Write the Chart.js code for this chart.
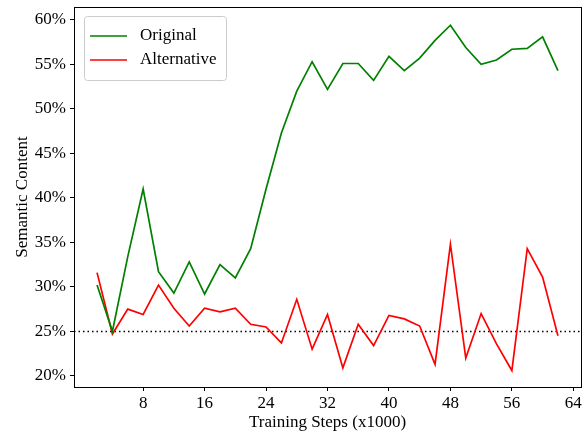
<!DOCTYPE html>
<html>
<head>
<meta charset="utf-8">
<script src="https://cdn.jsdelivr.net/npm/chart.js@4.4.1/dist/chart.umd.min.js"></script>
<style>
  html, body { margin: 0; padding: 0; background: #fff; }
  #wrap { width: 587px; height: 437px; }
</style>
</head>
<body>
<div id="wrap"><canvas id="c" width="587" height="437"></canvas></div>
<script>
// Training steps (x1000) at which each checkpoint was evaluated
const steps = [2, 4, 6, 8, 10, 12, 14, 16, 18, 20, 22, 24, 26, 28, 30, 32,
               34, 36, 38, 40, 42, 44, 46, 48, 50, 52, 54, 56, 58, 60, 62];

// Semantic content (%) per checkpoint
const original = [30.2, 25.0, 33.4, 41.0, 31.7, 29.3, 32.8, 29.2, 32.5, 31.0, 34.3,
                  41.0, 47.3, 52.0, 55.3, 52.2, 55.1, 55.1, 53.2, 55.9, 54.3, 55.7,
                  57.7, 59.4, 56.9, 55.0, 55.5, 56.7, 56.8, 58.1, 54.3];
const alternative = [31.6, 24.7, 27.5, 26.9, 30.2, 27.6, 25.6, 27.6, 27.2, 27.6, 25.8,
                     25.5, 23.7, 28.6, 23.0, 26.9, 20.9, 25.8, 23.4, 26.8, 26.4, 25.6,
                     21.3, 34.8, 22.0, 27.0, 23.6, 20.6, 34.3, 31.1, 24.5];

const chanceLevel = 25;
const xTicks = [8, 16, 24, 32, 40, 48, 56, 64];
const yTicks = [20, 25, 30, 35, 40, 45, 50, 55, 60];

const seriesNames = ['Original', 'Alternative'];
const seriesColors = ['#008000', '#ff0000'];

const FONT = '"Liberation Serif", "Times New Roman", serif';

const pts = (ys) => steps.map((s, i) => ({ x: s, y: ys[i] }));

// Full frame around the plotting area
const framePlugin = {
  id: 'frame',
  afterDatasetsDraw(chart) {
    const { ctx, chartArea: a } = chart;
    ctx.save();
    ctx.strokeStyle = '#000';
    ctx.lineWidth = 1;
    ctx.strokeRect(Math.round(a.left) + 0.5, Math.round(a.top) + 0.5,
                   Math.round(a.right - a.left), Math.round(a.bottom - a.top));
    ctx.restore();
  }
};

// Legend box in the upper-left corner of the plot
const insetLegend = {
  id: 'insetLegend',
  afterDraw(chart) {
    const { ctx, chartArea: a } = chart;
    const x0 = a.left + 10, y0 = a.top + 9;
    const w = 142, h = 64;
    ctx.save();
    ctx.fillStyle = 'rgba(255,255,255,0.8)';
    ctx.strokeStyle = '#cccccc';
    ctx.lineWidth = 1;
    const r = 3;
    ctx.beginPath();
    ctx.moveTo(x0 + r + 0.5, y0 + 0.5);
    ctx.arcTo(x0 + w + 0.5, y0 + 0.5, x0 + w + 0.5, y0 + h + 0.5, r);
    ctx.arcTo(x0 + w + 0.5, y0 + h + 0.5, x0 + 0.5, y0 + h + 0.5, r);
    ctx.arcTo(x0 + 0.5, y0 + h + 0.5, x0 + 0.5, y0 + 0.5, r);
    ctx.arcTo(x0 + 0.5, y0 + 0.5, x0 + w + 0.5, y0 + 0.5, r);
    ctx.closePath();
    ctx.fill();
    ctx.stroke();
    ctx.font = '17px ' + FONT;
    ctx.textBaseline = 'middle';
    seriesNames.forEach((name, i) => {
      const yy = y0 + 20 + i * 24;
      ctx.strokeStyle = seriesColors[i];
      ctx.lineWidth = 1.5;
      ctx.beginPath();
      ctx.moveTo(x0 + 6, yy);
      ctx.lineTo(x0 + 43, yy);
      ctx.stroke();
      ctx.fillStyle = '#000';
      ctx.fillText(name, x0 + 56, yy);
    });
    ctx.restore();
  }
};

new Chart(document.getElementById('c'), {
  type: 'line',
  data: {
    datasets: [
      { label: seriesNames[0], data: pts(original), borderColor: seriesColors[0],
        borderWidth: 1.7, pointRadius: 0, tension: 0, fill: false },
      { label: seriesNames[1], data: pts(alternative), borderColor: seriesColors[1],
        borderWidth: 1.7, pointRadius: 0, tension: 0, fill: false },
      { label: 'chance', data: [{ x: -1, y: chanceLevel }, { x: 65, y: chanceLevel }],
        borderColor: '#000', borderWidth: 1.5, borderDash: [1.5, 3],
        pointRadius: 0, tension: 0, fill: false }
    ]
  },
  options: {
    responsive: false,
    animation: false,
    devicePixelRatio: 1,
    layout: { padding: { top: 7, right: 6, left: 12, bottom: 0 } },
    plugins: { legend: { display: false }, tooltip: { enabled: false } },
    scales: {
      x: {
        type: 'linear', min: -1, max: 65,
        afterBuildTicks: (s) => { s.ticks = xTicks.map(v => ({ value: v })); },
        afterFit: (s) => { s.height = 50; s.paddingLeft = 0; s.paddingRight = 0; },
        grid: { drawOnChartArea: false, drawTicks: true, tickLength: 4, color: '#000' },
        border: { display: true, color: '#000' },
        ticks: { color: '#000', font: { family: FONT, size: 17 }, padding: 2,
                 maxRotation: 0, autoSkip: false },
        title: { display: true, text: 'Training Steps (x1000)', color: '#000',
                 font: { family: FONT, size: 17 }, padding: { top: 0, bottom: 4 } }
      },
      y: {
        type: 'linear', min: 18.75, max: 61.45,
        afterBuildTicks: (s) => { s.ticks = yTicks.map(v => ({ value: v })); },
        afterFit: (s) => { s.width = 62; s.paddingTop = 0; s.paddingBottom = 0; },
        grid: { drawOnChartArea: false, drawTicks: true, tickLength: 4, color: '#000' },
        border: { display: true, color: '#000' },
        ticks: { color: '#000', font: { family: FONT, size: 17 }, padding: 4,
                 callback: (v) => v + '%' },
        title: { display: true, text: 'Semantic Content', color: '#000',
                 font: { family: FONT, size: 17 }, padding: { top: 0, bottom: 0 } }
      }
    }
  },
  plugins: [framePlugin, insetLegend]
});
</script>
</body>
</html>
